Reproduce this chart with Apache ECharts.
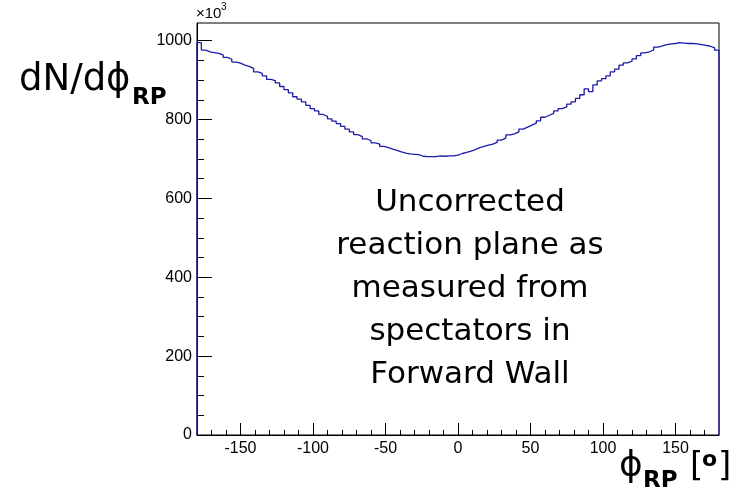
<!DOCTYPE html>
<html><head><meta charset="utf-8">
<script src="https://cdn.jsdelivr.net/npm/echarts@6/dist/echarts.min.js"></script>
<style>html,body{margin:0;padding:0;background:#fff}#c{width:740px;height:496px}</style>
</head><body><div id="c"></div>
<script>
// ---- data ----
const phiMin = -180, phiMax = 180, binWidth = 3;
const counts = [
  995,976,972,970,968,964,958,953,946,943,
  938,935,930,921,917,911,902,899,893,884,
  876,868,858,852,845,836,828,822,813,808,
  802,796,790,783,776,769,762,757,751,747,
  741,738,732,729,725,722,718,715,713,712,
  711,707,706,706,706,708,707,708,708,710,
  714,717,720,724,729,732,735,738,742,748,
  753,761,764,769,776,781,786,791,797,806,
  811,816,822,828,832,839,845,854,863,878,
  871,888,898,904,911,921,928,938,944,948,
  954,962,969,972,977,984,987,990,992,993,
  995,994,993,993,992,990,988,986,982,976
];
const xMajorTicks = [-150,-100,-50,0,50,100,150];
const xMinorTicks = [-170,-160,-140,-130,-120,-110,-90,-80,-70,-60,-40,-30,-20,-10,10,20,30,40,60,70,80,90,110,120,130,140,160,170];
const yMajorTicks = [0,200,400,600,800,1000];
const yMinorTicks = [50,100,150,250,300,350,450,500,550,650,700,750,850,900,950];
const yMax = 1045;
const annotation = ['Uncorrected','reaction plane as','measured from','spectators in','Forward Wall'];

// build step histogram outline
const pts = [[phiMin, 0]];
counts.forEach((v, i) => pts.push([phiMin + i * binWidth, v]));
pts.push([phiMax, counts[counts.length - 1]]);
pts.push([phiMax, 0]);

const labelFont = {fontFamily: 'Liberation Sans', fontSize: 16, color: '#000', formatter: v => String(v)};
const chart = echarts.init(document.getElementById('c'), null, {renderer: 'canvas'});
chart.setOption({
  animation: false,
  backgroundColor: '#fff',
  grid: {left: 197, right: 21, top: 23, bottom: 61, show: true, borderColor: '#000', borderWidth: 1, backgroundColor: 'transparent'},
  xAxis: [
    {type: 'value', min: phiMin, max: phiMax, position: 'bottom',
     axisLine: {show: true, onZero: false, lineStyle: {color: '#000', width: 1}},
     axisTick: {show: true, inside: true, length: 12, lineStyle: {color: '#000'}, customValues: xMajorTicks},
     axisLabel: Object.assign({margin: 6, customValues: xMajorTicks}, labelFont),
     splitLine: {show: false}},
    {type: 'value', min: phiMin, max: phiMax, position: 'bottom', offset: 0,
     axisLine: {show: false, onZero: false},
     axisTick: {show: true, inside: true, length: 5, lineStyle: {color: '#000'}, customValues: xMinorTicks},
     axisLabel: {show: false, customValues: xMinorTicks},
     splitLine: {show: false}}
  ],
  yAxis: [
    {type: 'value', min: 0, max: yMax, position: 'left',
     axisLine: {show: true, onZero: false, lineStyle: {color: '#000', width: 1}},
     axisTick: {show: true, inside: true, length: 15, lineStyle: {color: '#000'}, customValues: yMajorTicks},
     axisLabel: Object.assign({margin: 5, customValues: yMajorTicks}, labelFont),
     splitLine: {show: false}},
    {type: 'value', min: 0, max: yMax, position: 'left', offset: 0,
     axisLine: {show: false, onZero: false},
     axisTick: {show: true, inside: true, length: 7, lineStyle: {color: '#000'}, customValues: yMinorTicks},
     axisLabel: {show: false, customValues: yMinorTicks},
     splitLine: {show: false}}
  ],
  series: [{
    type: 'line', xAxisIndex: 0, yAxisIndex: 0, data: pts, step: 'end',
    showSymbol: false, symbol: 'none',
    lineStyle: {color: '#1c1ca8', width: 1.3}, silent: true
  }],
  graphic: [
    {type: 'text', left: 196, top: 6, style: {text: '×10', font: '15px "Liberation Sans"', fill: '#000'}},
    {type: 'text', left: 221, top: 2, style: {text: '3', font: '10px "Liberation Sans"', fill: '#000'}},
    {type: 'text', left: 19, top: 62, style: {text: 'dN/dϕ', font: '37px "DejaVu Sans"', fill: '#000'}},
    {type: 'text', left: 132, top: 87, style: {text: 'RP', font: 'bold 23px "DejaVu Sans"', fill: '#000'}},
    {type: 'text', left: 619, top: 449, style: {text: 'ϕ', font: '36px "DejaVu Sans"', fill: '#000'}},
    {type: 'text', left: 643, top: 470, style: {text: 'RP', font: 'bold 23px "DejaVu Sans"', fill: '#000'}},
    {type: 'text', left: 690, top: 450, style: {text: '[', font: '34px "DejaVu Sans"', fill: '#000'}},
    {type: 'text', left: 718, top: 450, style: {text: ']', font: '34px "DejaVu Sans"', fill: '#000'}},
    {type: 'text', left: 702, top: 449, style: {text: 'o', font: 'bold 22px "DejaVu Sans"', fill: '#000'}},
    {type: 'text', x: 470, y: 289, style: {text: annotation.join('\n'), font: '31px "DejaVu Sans"', fill: '#000', align: 'center', verticalAlign: 'middle', lineHeight: 43}}
  ]
});
</script>
</body></html>
